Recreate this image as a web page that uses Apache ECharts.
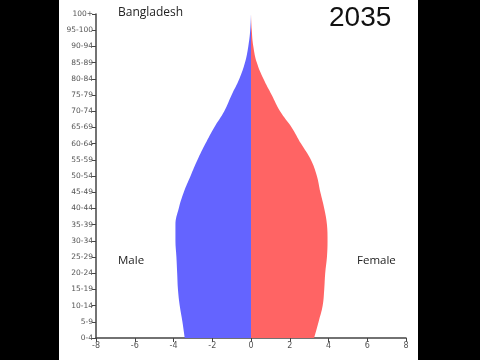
<!DOCTYPE html>
<html>
<head>
<meta charset="utf-8">
<script src="https://cdn.jsdelivr.net/npm/echarts@6/dist/echarts.min.js"></script>
<style>
html,body{margin:0;padding:0;background:#000;}
#c{position:absolute;left:0;top:0;width:480px;height:360px;}
</style>
</head>
<body>
<div id="c"></div>
<script>
var ages = ['0-4','5-9','10-14','15-19','20-24','25-29','30-34','35-39','40-44','45-49','50-54','55-59','60-64','65-69','70-74','75-79','80-84','85-89','90-94','95-100','100+'];
var male = [3.42,3.54,3.68,3.77,3.81,3.85,3.90,3.90,3.73,3.47,3.12,2.76,2.35,1.90,1.38,1.00,0.60,0.31,0.14,0.04,0.01];
var female = [3.26,3.49,3.70,3.78,3.83,3.92,3.95,3.92,3.78,3.58,3.40,3.09,2.58,2.10,1.50,1.07,0.64,0.30,0.12,0.04,0.01];
var xTicks = [-8,-6,-4,-2,0,2,4,6,8];

var chart = echarts.init(document.getElementById('c'), null, {renderer:'canvas'});
chart.setOption({
  backgroundColor: '#000',
  animation: false,
  graphic: [
    {type:'rect', z:-10, shape:{x:59, y:0, width:359, height:360}, style:{fill:'#fff'}},
    {type:'text', left:118, top:7, style:{text:'Bangladesh', fontSize:12, fontFamily:'Open Sans', fill:'#222'}},
    {type:'text', left:329, top:4, style:{text:'2035', fontSize:28, fontFamily:'Liberation Sans', fill:'#111'}},
    {type:'text', left:118, top:255, style:{text:'Male', fontSize:11.5, fontFamily:'Open Sans', fill:'#222'}},
    {type:'text', left:357, top:255, style:{text:'Female', fontSize:11.5, fontFamily:'Open Sans', fill:'#222'}}
  ],
  grid: {left:96, right:74, top:14, bottom:22, containLabel:false},
  xAxis: {
    type:'value', min:-8, max:8, interval:2,
    axisLine:{show:true, onZero:false, lineStyle:{color:'#444', width:1.5}},
    axisTick:{show:true, length:4, lineStyle:{color:'#444'}},
    axisLabel:{fontSize:8, color:'#555', margin:4, fontFamily:'DejaVu Sans'},
    splitLine:{show:false}
  },
  yAxis: {
    type:'category', data:ages, boundaryGap:false,
    axisLine:{show:true, onZero:false, lineStyle:{color:'#444', width:1.5}},
    axisTick:{show:true, length:4, alignWithLabel:true, lineStyle:{color:'#444'}},
    axisLabel:{fontSize:7.5, color:'#555', margin:3, interval:0, fontFamily:'DejaVu Sans'},
    splitLine:{show:false}
  },
  series: [
    {type:'line', name:'Male', data:male.map(function(v){return -v;}), smooth:0.4, showSymbol:false,
     lineStyle:{width:0}, areaStyle:{color:'#6464ff', opacity:1}, itemStyle:{color:'#6464ff'}},
    {type:'line', name:'Female', data:female, smooth:0.4, showSymbol:false,
     lineStyle:{width:0}, areaStyle:{color:'#ff6464', opacity:1}, itemStyle:{color:'#ff6464'}}
  ]
});
</script>
</body>
</html>
